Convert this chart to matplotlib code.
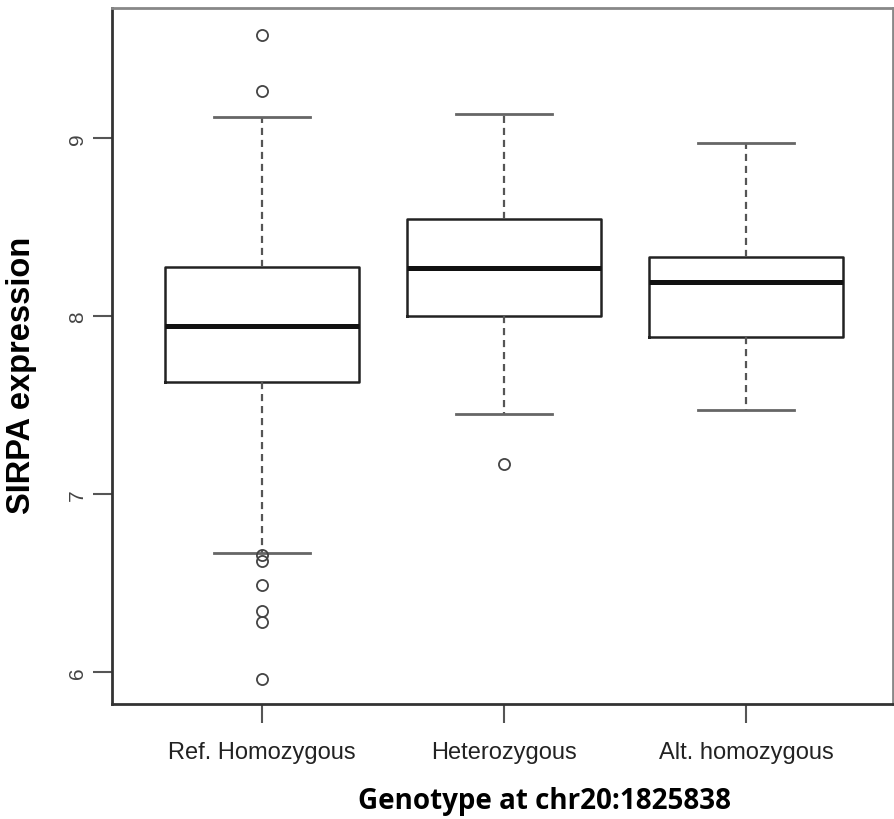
import matplotlib.pyplot as plt

# genotype groups at chr20:1825838
genotypes = ["Ref. Homozygous", "Heterozygous", "Alt. homozygous"]

# box summaries of SIRPA expression per genotype
q1 = [7.63, 8.00, 7.88]
med = [7.945, 8.27, 8.19]
q3 = [8.275, 8.545, 8.33]
whislo = [6.67, 7.45, 7.47]
whishi = [9.12, 9.135, 8.97]

# points outside the whiskers
fliers_ref = [9.58, 9.265, 6.655, 6.625, 6.49, 6.34, 6.28, 5.96]
fliers_het = [7.17]
fliers_alt = []
fliers = [fliers_ref, fliers_het, fliers_alt]

stats = []
for i in range(len(genotypes)):
    stats.append({
        "label": genotypes[i],
        "q1": q1[i], "med": med[i], "q3": q3[i],
        "whislo": whislo[i], "whishi": whishi[i],
        "fliers": fliers[i],
    })

fig = plt.figure(figsize=(8.95, 8.2), dpi=100)
ax = fig.add_axes([112 / 895, 115 / 820, 781 / 895, 696 / 820])

ax.bxp(stats, positions=[1, 2, 3], widths=0.8, showfliers=True,
       boxprops=dict(color="#222222", linewidth=1.8),
       medianprops=dict(color="#111111", linewidth=3.6, solid_capstyle="butt"),
       whiskerprops=dict(color="#555555", linewidth=1.6, linestyle=(0, (3.2, 2.2))),
       capprops=dict(color="#666666", linewidth=2.0),
       capwidths=0.4,
       flierprops=dict(marker="o", markersize=8, markerfacecolor="none",
                       markeredgecolor="#444444", markeredgewidth=1.3))

ax.set_xlim(0.38, 3.607)
ax.set_ylim(5.82, 9.73)

ax.set_yticks([6, 7, 8, 9])
ax.set_yticklabels(["6", "7", "8", "9"], rotation=90, va="center",
                   fontsize=15, color="#444444", family="Liberation Sans")
ax.set_xticks([1, 2, 3])
ax.set_xticklabels(genotypes, fontsize=17, color="#222222", family="Liberation Sans")
ax.tick_params(axis="y", length=14, width=1.5, color="#555555", pad=4)
ax.tick_params(axis="x", length=14, width=1.5, color="#555555", pad=13)

for side in ["left", "bottom"]:
    ax.spines[side].set_color("#333333")
    ax.spines[side].set_linewidth(2)
for side in ["top", "right"]:
    ax.spines[side].set_color("#888888")
    ax.spines[side].set_linewidth(2)

fig.text(22 / 895, 1 - 375 / 820, "SIRPA expression", rotation=90, ha="center",
         va="center", fontsize=23.5, fontweight="bold", family="Liberation Sans")
fig.text(545 / 895, 1 - 802 / 820, "Genotype at chr20:1825838", ha="center",
         va="center", fontsize=20, fontweight="bold", family="Open Sans")

fig.savefig("out.png", dpi=100)
